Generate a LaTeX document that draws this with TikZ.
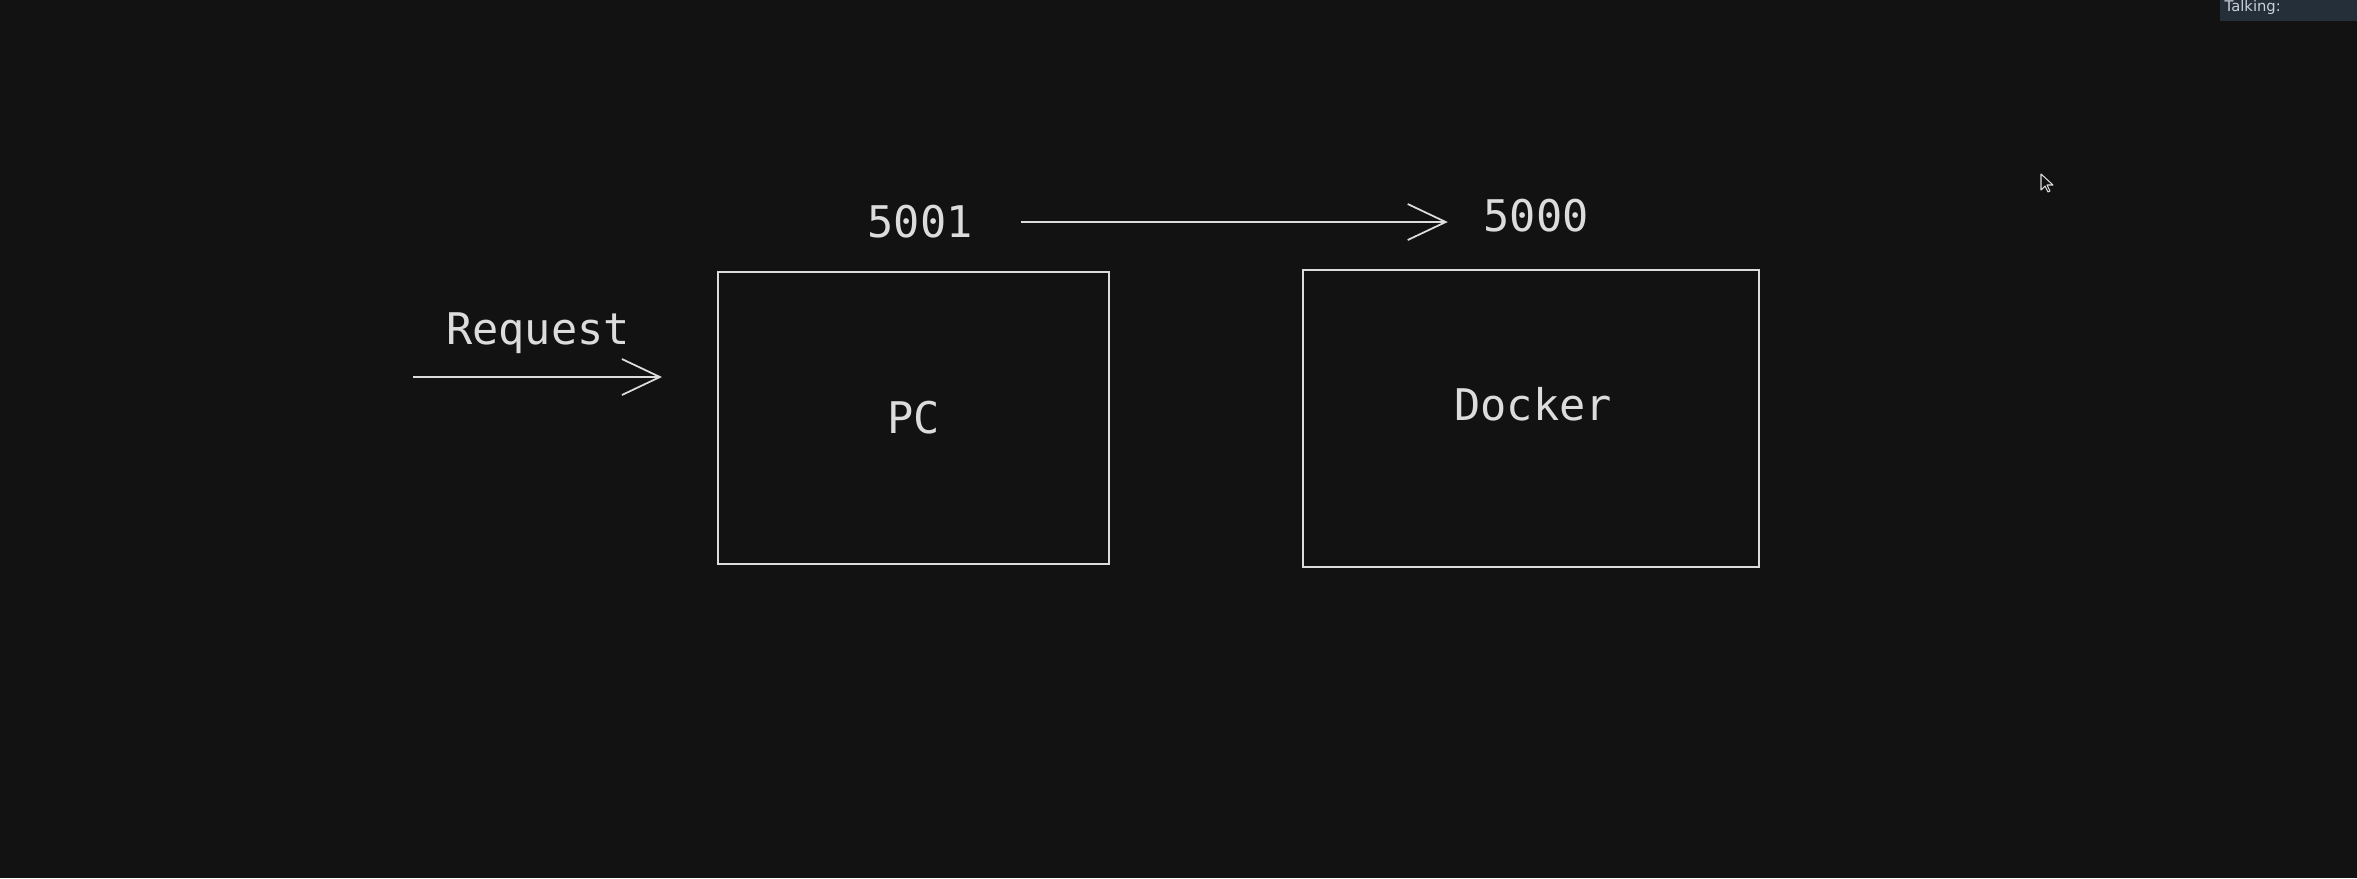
\documentclass[tikz,border=0pt]{standalone}
\usepackage{fontspec}
\usetikzlibrary{arrows.meta,positioning}
\newfontfamily\handfont{DejaVu Sans Mono}
\newfontfamily\uifont{DejaVu Sans}
\definecolor{boardbg}{HTML}{121212}
\definecolor{chalk}{HTML}{DCDCDC}
\definecolor{talkbg}{HTML}{252F3A}
\definecolor{talkfg}{HTML}{C8D0DC}
\tikzset{
  board/.style={draw=chalk, line width=0.5pt},
  label/.style={text=chalk, font=\handfont\fontsize{12.4}{14}\selectfont, inner sep=0pt},
  flow/.style={chalk, line width=0.5pt, -{Straight Barb[length=3.8mm,width=3.6mm]}}
}
\begin{document}
\begin{tikzpicture}[x=0.01cm, y=-0.01cm]
% background
\fill[boardbg] (0,0) rectangle (2357,878);
\useasboundingbox (0,0) rectangle (2357,878);
% Boxes
\node[board, minimum width=3.91cm, minimum height=2.92cm] (pc) at (913.5,418) {};
\node[label] at (pc) {PC};
\node[board, minimum width=4.56cm, minimum height=2.97cm] (docker) at (1531,418.5) {};
\node[label] at (1533,404) {Docker};
% Ports
\node[label] (p5001) at (920,222) {5001};
\node[label] (p5000) at (1536,216) {5000};
\draw[flow, shorten <=0.48cm, shorten >=0.35cm] (p5001.east) -- (p5001.east -| p5000.west);
% Request
\node[label] (request) at (538,333) {Request};
\coordinate (reqin) at (413,377);
\draw[flow, shorten >=0.55cm] (reqin) -- (pc.west |- reqin);
% Talking bar
\fill[talkbg] (2220,0) rectangle (2357,21);
\node[text=talkfg, font=\uifont\fontsize{4.2}{5}\selectfont, anchor=base west, inner sep=0pt] (talking) at (2224,11) {Talking:};
% Cursor
\draw[chalk, fill=boardbg, line width=0.3pt, line join=round]
  (2041,174) -- (2041,190) -- (2045,186) -- (2048,192) -- (2050,191)
  -- (2047,185) -- (2053,185) -- cycle;
\end{tikzpicture}
\end{document}
